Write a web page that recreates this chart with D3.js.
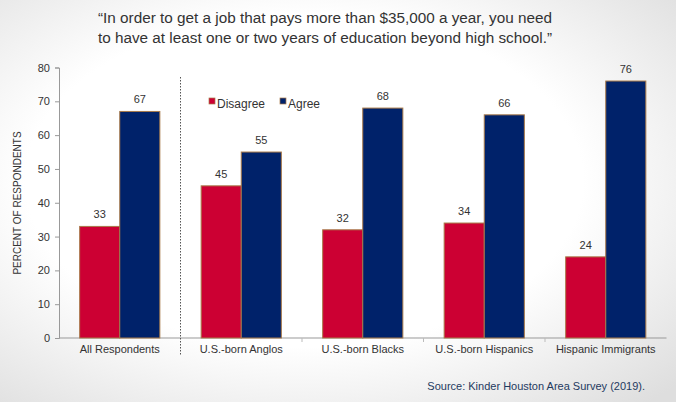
<!DOCTYPE html>
<html>
<head>
<meta charset="utf-8">
<script src="https://cdn.jsdelivr.net/npm/d3@7"></script>
<style>
  html, body { margin: 0; padding: 0; }
  body { width: 676px; height: 402px; overflow: hidden; }
  svg { display: block; font-family: "Liberation Sans", Arial, sans-serif; }
</style>
</head>
<body>
<svg id="chart" width="676" height="402"></svg>
<script>
// Survey groups and responses (percent)
const categories = ["All Respondents", "U.S.-born Anglos", "U.S.-born Blacks", "U.S.-born Hispanics", "Hispanic Immigrants"];
const seriesNames = ["Disagree", "Agree"];
const disagree = [33, 45, 32, 34, 24];
const agree = [67, 55, 68, 66, 76];
const yTicks = [0, 10, 20, 30, 40, 50, 60, 70, 80];
const titleLines = [
  "\u201CIn order to get a job that pays more than $35,000 a year, you need",
  "to have at least one or two years of education beyond high school.\u201D"
];
const sourceText = "Source: Kinder Houston Area Survey (2019).";

const colors = { Disagree: "#cc0033", Agree: "#00226a" };
const barStroke = "#a87a4a";
const W = 676, H = 402;
const margin = { left: 59, right: 10, top: 67.5, bottom: 64 };

const svg = d3.select("#chart");

// Soft grey vignette behind the slide
const defs = svg.append("defs");
const grad = defs.append("radialGradient").attr("id", "bg")
  .attr("cx", "45%").attr("cy", "45%").attr("r", "75%");
grad.append("stop").attr("offset", "55%").attr("stop-color", "#ffffff");
grad.append("stop").attr("offset", "100%").attr("stop-color", "#dedede");
svg.append("rect").attr("width", W).attr("height", H).attr("fill", "url(#bg)");

const x0 = d3.scaleBand().domain(categories).range([59, 666.5]).paddingInner(0.34).paddingOuter(0.17);
const x1 = d3.scaleBand().domain(seriesNames).range([0, x0.bandwidth()]);
const y = d3.scaleLinear().domain([0, 80]).range([338, 67.5]);

// Title
svg.append("g").selectAll("text").data(titleLines).join("text")
  .attr("x", 325).attr("y", (d, i) => 23 + i * 19.5)
  .attr("text-anchor", "middle")
  .attr("font-size", 15.3).attr("fill", "#333")
  .text(d => d);

// Y axis
const yAxis = svg.append("g").attr("transform", "translate(59,0)")
  .call(d3.axisLeft(y).tickValues(yTicks).tickSize(4).tickPadding(5));
yAxis.selectAll("path, line").attr("stroke", "#999");
yAxis.selectAll("text").attr("font-size", 11).attr("fill", "#333")
  .attr("font-family", "Liberation Sans, Arial, sans-serif");

// X axis baseline and group separators
const xAxis = svg.append("g").attr("transform", "translate(0,338)");
xAxis.append("line").attr("x1", 59).attr("x2", 666.5).attr("y1", 0).attr("y2", 0).attr("stroke", "#999");
const step = x0.step();
const bounds = categories.slice(2).map(c => x0(c) - x0.paddingInner() * step / 2 + 0);
xAxis.selectAll("line.sep").data(categories.slice(2)).join("line")
  .attr("class", "sep")
  .attr("x1", d => x0(d) - (step - x0.bandwidth()) / 2)
  .attr("x2", d => x0(d) - (step - x0.bandwidth()) / 2)
  .attr("y1", 0).attr("y2", 4).attr("stroke", "#bbb");
xAxis.selectAll("text").data(categories).join("text")
  .attr("x", d => x0(d) + x0.bandwidth() / 2).attr("y", 15)
  .attr("text-anchor", "middle").attr("font-size", 11).attr("fill", "#333")
  .text(d => d);

// Dotted divider between overall and subgroup results
const divX = x0(categories[1]) - (step - x0.bandwidth()) / 2;
svg.append("line").attr("x1", divX).attr("x2", divX).attr("y1", 77).attr("y2", 355)
  .attr("stroke", "#555").attr("stroke-width", 1).attr("stroke-dasharray", "1.5,1.5");

// Bars
const rows = categories.map((c, i) => ({ cat: c, vals: [
  { key: "Disagree", v: disagree[i] }, { key: "Agree", v: agree[i] }] }));
const groups = svg.append("g").selectAll("g").data(rows).join("g")
  .attr("transform", d => `translate(${x0(d.cat)},0)`);
groups.selectAll("rect").data(d => d.vals).join("rect")
  .attr("x", d => x1(d.key)).attr("width", x1.bandwidth())
  .attr("y", d => y(d.v)).attr("height", d => y(0) - y(d.v))
  .attr("fill", d => colors[d.key]).attr("stroke", barStroke).attr("stroke-width", 1);
groups.selectAll("text").data(d => d.vals).join("text")
  .attr("x", d => x1(d.key) + x1.bandwidth() / 2).attr("y", d => y(d.v) - 8)
  .attr("text-anchor", "middle").attr("font-size", 11).attr("fill", "#333")
  .text(d => d.v);

// Legend
const legend = svg.append("g").attr("transform", "translate(209,103)");
const legX = [0, 71];
seriesNames.forEach((s, i) => {
  const g = legend.append("g").attr("transform", `translate(${legX[i]},0)`);
  g.append("rect").attr("x", 0).attr("y", -5).attr("width", 6).attr("height", 6)
    .attr("fill", colors[s]).attr("stroke", barStroke).attr("stroke-width", 0.7);
  g.append("text").attr("x", 8).attr("y", 1.5).attr("dominant-baseline", "middle")
    .attr("font-size", 12).attr("fill", "#333").text(s);
});

// Y axis title
svg.append("text").attr("transform", "translate(21,203) rotate(-90)")
  .attr("text-anchor", "middle").attr("font-size", 10).attr("fill", "#333")
  .text("PERCENT OF RESPONDENTS");

// Source note
svg.append("text").attr("x", 645).attr("y", 390).attr("text-anchor", "end")
  .attr("font-size", 11).attr("fill", "#1f3a5f").text(sourceText);
</script>
</body>
</html>
